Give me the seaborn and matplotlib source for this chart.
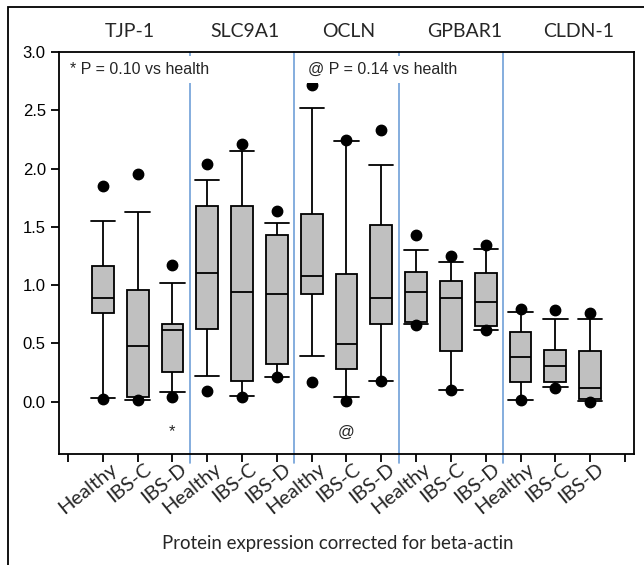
import matplotlib
matplotlib.use("Agg")
import matplotlib.pyplot as plt
import matplotlib.patches as mpatches
import matplotlib.transforms as mtransforms
import seaborn as sns
import pandas as pd

# --- Data (gene-major order: Healthy, IBS-C, IBS-D) ---
genes = ["TJP-1", "SLC9A1", "OCLN", "GPBAR1", "CLDN-1"]
groups = ["Healthy", "IBS-C", "IBS-D"]

dot_low = [0.026, 0.010, 0.038, 0.094, 0.040, 0.210, 0.169, 0.009, 0.176,
           0.655, 0.095, 0.613, 0.015, 0.120, 0.000]
whisker_low = [0.032, 0.015, 0.078, 0.223, 0.046, 0.215, 0.393, 0.043, 0.180,
               0.665, 0.098, 0.616, 0.017, 0.126, 0.006]
q1 = [0.760, 0.038, 0.258, 0.627, 0.178, 0.326, 0.923, 0.278, 0.662,
      0.685, 0.436, 0.650, 0.167, 0.167, 0.023]
median = [0.885, 0.479, 0.613, 1.103, 0.940, 0.919, 1.074, 0.490, 0.891,
          0.940, 0.888, 0.854, 0.381, 0.301, 0.120]
q3 = [1.160, 0.960, 0.667, 1.675, 1.675, 1.426, 1.607, 1.091, 1.515,
      1.112, 1.034, 1.106, 0.596, 0.444, 0.436]
whisker_high = [1.552, 1.630, 1.020, 1.899, 2.148, 1.535, 2.523, 2.240, 2.028,
                1.297, 1.194, 1.309, 0.768, 0.705, 0.705]
dot_high = [1.853, 1.956, 1.170, 2.036, 2.210, 1.636, 2.720, 2.245, 2.328,
            1.432, 1.246, 1.340, 0.796, 0.788, 0.756]

ytick_values = [0.0, 0.5, 1.0, 1.5, 2.0, 2.5, 3.0]

# --- Long-form table: nine values per box so the quartiles, whisker ends
# (12.5/87.5 percentiles) and the two dots fall exactly on the read values ---
keys = [f"{g} {grp}" for g in genes for grp in groups]
rows = []
for i, key in enumerate(keys):
    vals = [dot_low[i], whisker_low[i], q1[i], q1[i], median[i],
            q3[i], q3[i], whisker_high[i], dot_high[i]]
    for v in vals:
        rows.append({"box": key, "value": v})
df = pd.DataFrame(rows)
order = ["pad_left"] + keys + ["pad_right"]

sns.set_style("ticks")
plt.rcParams["font.family"] = ["Liberation Sans", "DejaVu Sans"]

fig = plt.figure(figsize=(6.44, 5.65), dpi=100)
ax = fig.add_axes([59 / 644, 1 - 454 / 565, (634 - 59) / 644, (454 - 52) / 565])

sns.boxplot(data=df, x="box", y="value", order=order, ax=ax,
            width=0.63, color="#c0c0c0", saturation=1, linecolor="black",
            linewidth=1.3, whis=(12.5, 87.5), fliersize=7.5,
            flierprops=dict(marker="o", markerfacecolor="black",
                            markeredgecolor="black"),
            capwidths=0.7)

ax.set_xlim(-0.26, 16.26)
ax.set_ylim(-0.45, 3.0)

# group separators (run a little below the x axis, as in the original)
for xs in [3.5, 6.5, 9.5, 12.5]:
    ax.plot([xs, xs], [-0.53, 3.0], color="#6f9fd8", lw=1.2, zorder=1,
            clip_on=False)

ax.set_yticks(ytick_values)
ax.set_yticklabels([f"{v:.1f}" for v in ytick_values], fontsize=12)
ax.set_xticks(range(len(order)))
ax.set_xticklabels([""] * len(order))
ax.set_xlabel("")
ax.set_ylabel("")
ax.tick_params(direction="out", length=6, width=1.3, colors="black")
for sp in ax.spines.values():
    sp.set_visible(True)
    sp.set_linewidth(1.3)
    sp.set_color("black")

# rotated group labels under each tick; baseline end sits right of the tick
label_tf = ax.get_xaxis_transform() + mtransforms.ScaledTranslation(
    15 / 100, -17 / 100, fig.dpi_scale_trans)
for i, lab in enumerate(groups * len(genes), start=1):
    ax.text(i, 0, lab, transform=label_tf, rotation=39, rotation_mode="anchor",
            ha="right", va="baseline", fontsize=14.5, family="Lato")

# p-value notes
note_box = dict(facecolor="white", edgecolor="none", boxstyle="square,pad=0.4")
ax.text(0.06, 2.85, "* P = 0.10 vs health", fontsize=11.5, va="center",
        bbox=note_box, zorder=5)
ax.text(6.9, 2.85, "@ P = 0.14 vs health", fontsize=11.5, va="center",
        bbox=note_box, zorder=5)
ax.text(3, -0.26, "*", fontsize=12, ha="center", va="center")
ax.text(8, -0.26, "@", fontsize=12, ha="center", va="center")

# gene names above the panel
for name, gx in zip(genes, [1.78, 5.09, 8.05, 11.4, 14.66]):
    ax.text(gx, 3.176, name, ha="center", va="center", fontsize=14,
            family="Lato", clip_on=False)

fig.text(337.5 / 644, 1 - 543 / 565, "Protein expression corrected for beta-actin",
         ha="center", va="center", fontsize=13.4, family="Lato")

# outer frame
fig.patches.append(mpatches.Rectangle((8 / 644, -0.05), 1.1, 1.05 - 7 / 565,
                                      transform=fig.transFigure, fill=False,
                                      lw=1.3, ec="black"))

fig.savefig("out.png", dpi=100)
